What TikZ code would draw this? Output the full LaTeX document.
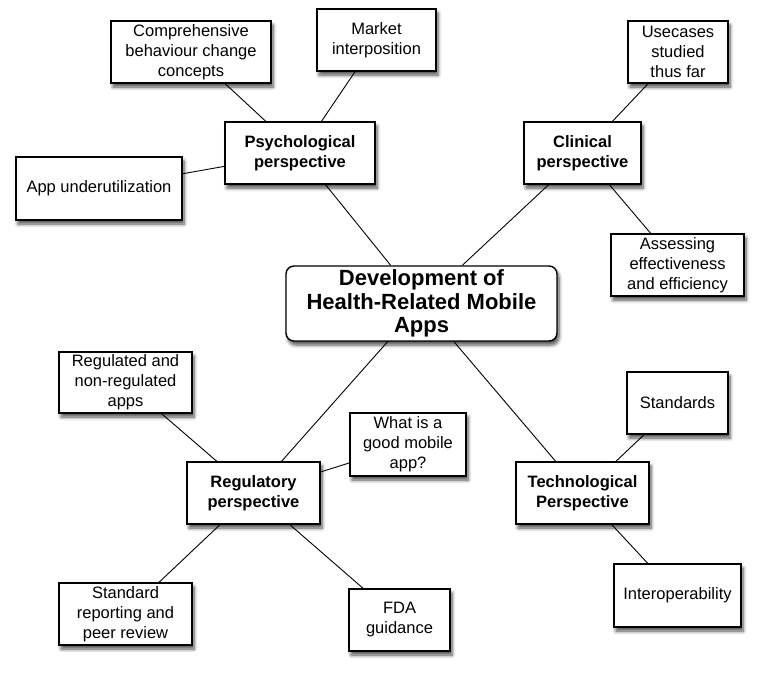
\documentclass[tikz,border=0pt]{standalone}
\usepackage{fontspec}
\setmainfont{Liberation Sans}
\usetikzlibrary{shadows.blur}
\begin{document}
\begin{tikzpicture}[x=1pt,y=-1pt,
  sz/.style 2 args={minimum width=#1pt, minimum height=#2pt},
  box/.style={draw, line width=1.2pt, fill=white, align=center, inner sep=0pt,
    font=\fontsize{16.5}{20}\selectfont,
    blur shadow={shadow xshift=2pt, shadow yshift=-4pt, shadow blur steps=6, shadow blur radius=3.5pt, shadow opacity=70}},
  pbox/.style={box, font=\fontsize{16.5}{20}\selectfont\bfseries},
  cbox/.style={box, rounded corners=8pt, line width=1.4pt, font=\fontsize{22}{23.5}\selectfont\bfseries},
  conn/.style={draw, line width=0.9pt}
]
\useasboundingbox (0,0) rectangle (759,673);
\node[cbox, sz={271}{75}] (central) at (421.5,303.5) {Development of\\Health-Related Mobile\\Apps};

\node[pbox, sz={150}{62}] (psych) at (300,153) {Psychological\\perspective};
\node[box, sz={160}{62}] (comp) at (191,52) {Comprehensive\\behaviour change\\concepts};
\node[box, sz={119}{62}] (market) at (376.5,40) {Market\\interposition};
\node[box, sz={166}{63}] (app) at (99,188.5) {App underutilization};

\node[pbox, sz={117}{62}] (clin) at (582.5,153) {Clinical\\perspective};
\node[box, sz={100}{62}] (usec) at (678,52) {Usecases\\studied\\thus far};
\node[box, sz={133}{62}] (assess) at (677.5,265) {Assessing\\effectiveness\\and efficiency};

\node[pbox, sz={133}{62}] (reg) at (253.5,493) {Regulatory\\perspective};
\node[box, sz={133}{61}] (regd) at (125.5,382.5) {Regulated and\\non-regulated\\apps};
\node[box, sz={116}{63}] (what) at (408,444.5) {What is a\\good mobile\\app?};
\node[box, sz={133}{62}] (stdrep) at (125.5,614) {Standard\\reporting and\\peer review};
\node[box, sz={101}{62}] (fda) at (399.5,620) {FDA\\guidance};

\node[pbox, sz={133}{62}] (tech) at (582.5,493) {Technological\\Perspective};
\node[box, sz={101}{62}] (stds) at (677.5,403) {Standards};
\node[box, sz={127}{63}] (inter) at (677.5,595.5) {Interoperability};

\path[conn] (central) -- (psych);
\path[conn] (central) -- (clin);
\path[conn] (central) -- (reg);
\path[conn] (central) -- (tech);
\path[conn] (psych) -- (comp);
\path[conn] (psych) -- (market);
\path[conn] (psych) -- (app);
\path[conn] (clin) -- (usec);
\path[conn] (clin) -- (assess);
\path[conn] (reg) -- (regd);
\path[conn] (reg) -- (what);
\path[conn] (reg) -- (stdrep);
\path[conn] (reg) -- (fda);
\path[conn] (tech) -- (stds);
\path[conn] (tech) -- (inter);
\end{tikzpicture}
\end{document}
